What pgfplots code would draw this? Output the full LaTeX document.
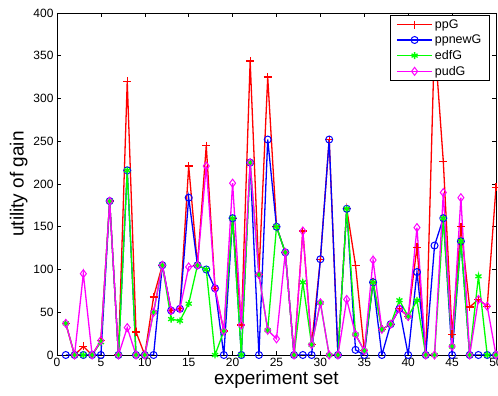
\documentclass[border=0pt]{standalone}
\usepackage{pgfplots}
\pgfplotsset{compat=1.18}
\usepackage{pgfplotstable}
\usepackage{fontspec}
\setmainfont{Liberation Sans}
\definecolor{mred}{RGB}{255,0,0}
\definecolor{mblue}{RGB}{0,0,255}
\definecolor{mgreen}{RGB}{0,255,0}
\definecolor{mmag}{RGB}{255,0,255}
\pgfplotstableread{
x ppG ppnewG edfG pudG
1 37 0 37 37
2 0 0 0 0
3 10 0 0 95
4 0 0 0 0
5 17 0 15 17
6 180 180 180 180
7 0 0 0 0
8 320 216 216 32
9 27 0 0 0
10 0 0 0 0
11 68 0 50 50
12 105 105 105 105
13 52 52 42 52
14 54 54 40 54
15 221 184 60 103
16 105 105 105 105
17 245 100 100 221
18 78 78 0 78
19 28 0 28 28
20 160 160 160 201
21 35 0 0 35
22 344 225 225 225
23 94 0 94 94
24 325 252 29 29
25 150 150 150 19
26 120 120 120 120
27 0 0 0 0
28 145 0 85 145
29 12 0 12 12
30 112 112 61 61
31 252 252 0 0
32 0 0 0 0
33 171 171 171 65
34 105 6 24 24
35 5 0 5 5
36 85 85 85 111
37 30 0 30 30
38 36 36 36 36
39 54 54 64 54
40 45 0 45 45
41 126 97 64 149
42 0 0 0 0
43 370 128 0 0
44 226 160 160 190
45 24 0 10 10
46 150 133 133 184
47 56 0 0 0
48 65 0 92 65
49 57 0 0 57
50 196 0 0 0
}\datatable
\pgfplotsset{mylegend/.style={legend image code/.code={%
    \draw[mark repeat=2,mark phase=2] plot coordinates {(0cm,0cm) (0.62cm,0cm) (1.24cm,0cm)};}}}
\begin{document}
\begin{tikzpicture}
\useasboundingbox (-57pt,-41pt) rectangle (441pt,355pt);
\begin{axis}[
  at={(0,0)}, anchor=south west,
  scale only axis, width=439pt, height=342pt,
  xmin=0, xmax=50, ymin=0, ymax=400,
  xtick={0,5,...,50}, ytick={0,50,...,400},
  tick align=inside, major tick length=4pt,
  tick style={black, line width=0.5pt},
  axis line style={black, line width=0.8pt},
  /pgf/number format/assume math mode=true,
  ticklabel style={font=\fontsize{12}{12}\selectfont},
  xlabel={experiment set}, ylabel={utility of gain},
  label style={font=\fontsize{19}{19}\selectfont},
  xlabel style={yshift=3pt},
  ylabel style={yshift=-1pt},
  legend style={at={(rel axis cs:0.986,0.994)}, anchor=north east,
    font=\fontsize{12.5}{12.5}\selectfont, draw=black, fill=white,
    line width=0.8pt,
    inner xsep=6pt, inner ysep=2pt, row sep=1.2pt, cells={anchor=west}},
  legend cell align=left,
  every axis plot post/.append style={mylegend},
  every axis plot/.append style={line width=1.3pt},
]
\addplot[mred, mark=+, mark size=4pt] table[x=x, y=ppG] {\datatable};
\addlegendentry{ppG}
\addplot[mblue, mark=o, mark size=3.5pt, mark options={line width=1pt}] table[x=x, y=ppnewG] {\datatable};
\addlegendentry{ppnewG}
\addplot[mgreen, mark=asterisk, mark size=3.5pt] table[x=x, y=edfG] {\datatable};
\addlegendentry{edfG}
\addplot[mmag, mark=diamond, mark size=4pt, mark options={line width=1pt}] table[x=x, y=pudG] {\datatable};
\addlegendentry{pudG}
\end{axis}
\end{tikzpicture}
\end{document}
